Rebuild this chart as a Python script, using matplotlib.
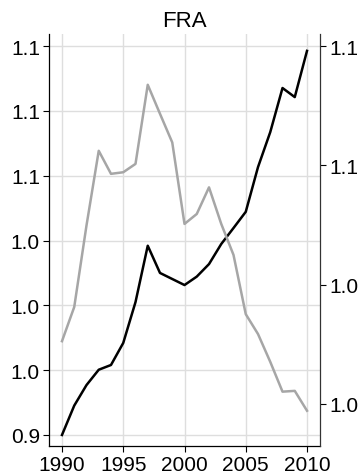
import matplotlib
matplotlib.use("Agg")
import matplotlib.pyplot as plt

plt.rcParams['font.family'] = ['Liberation Sans', 'DejaVu Sans']

years = list(range(1990, 2011))
black_vals = [0.9300, 0.9436, 0.9531, 0.9602, 0.9624, 0.9726, 0.9915, 1.0176,
              1.0050, 1.0022, 0.9994, 1.0033, 1.0091, 1.0184, 1.0258, 1.0333,
              1.0540, 1.0702, 1.0906, 1.0864, 1.1078]
gray_vals = [1.0058, 1.0144, 1.0349, 1.0537, 1.0479, 1.0483, 1.0504, 1.0703,
             1.0630, 1.0558, 1.0353, 1.0378, 1.0445, 1.0353, 1.0275, 1.0126,
             1.0076, 1.0006, 0.9931, 0.9933, 0.9883]
left_ticks = [0.93, 0.96, 0.99, 1.02, 1.05, 1.08, 1.11]
right_ticks = [0.99, 1.02, 1.05, 1.08]
x_ticks = [1990, 1995, 2000, 2005, 2010]
title = "FRA"

fig = plt.figure(figsize=(3.61, 4.77), dpi=100)
ax = fig.add_axes([49/361, 30/477, 271/361, 412/477])
ax2 = ax.twinx()

ax.plot(years, black_vals, color='black', lw=1.8, zorder=3)
ax2.plot(years, gray_vals, color='#a6a6a6', lw=1.8, zorder=3)

ax.set_xlim(1988.94, 2011.06)
ax.set_ylim(0.9249, 1.1156)
ax2.set_ylim(0.97943, 1.08308)

ax.set_xticks(x_ticks)
ax.set_xticklabels([str(x) for x in x_ticks])
ax.set_yticks(left_ticks)
ax.set_yticklabels(['%.1f' % v for v in left_ticks])
ax2.set_yticks(right_ticks)
ax2.set_yticklabels(['%.1f' % v for v in right_ticks])

ax.grid(True, color='#dedede', lw=1.0, zorder=0)
ax.set_axisbelow(True)

for a in (ax, ax2):
    a.spines['top'].set_visible(False)
    for s in a.spines.values():
        s.set_linewidth(0.9)
        s.set_color('black')
ax2.spines['right'].set_color('#333333')
ax2.spines['left'].set_visible(False)
ax2.spines['bottom'].set_visible(False)
ax.spines['right'].set_visible(False)

ax.tick_params(axis='both', length=4.5, width=0.8, pad=2, labelsize=15, colors='black')
ax2.tick_params(axis='y', length=4.5, width=0.8, pad=2, labelsize=15, colors='black')

ax.set_title(title, fontsize=16, pad=6)

fig.savefig('out.png', dpi=100)
